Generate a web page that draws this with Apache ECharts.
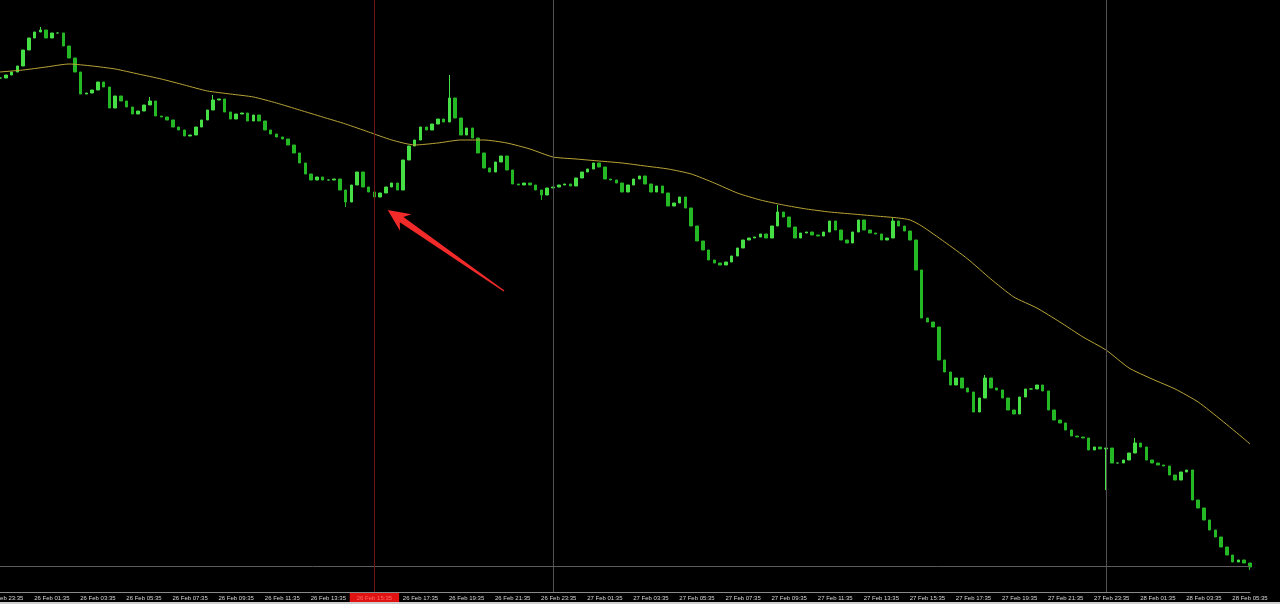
<!DOCTYPE html>
<html>
<head>
<meta charset="utf-8">
<script src="https://cdn.jsdelivr.net/npm/echarts@6/dist/echarts.min.js"></script>
<style>
html,body{margin:0;padding:0;background:#000;}
#c{width:1280px;height:604px;}
</style>
</head>
<body>
<div id="c"></div>
<script>
// 15-minute closes (index 0 = 25 Feb 23:20, last = 28 Feb 05:35)
const closes = [
522,525,528,534,550,562,568,570,562,567,567,554,542,528,506,507,510,518,513,492,
504,499,493,486,489,495,499,484,483,480,473,470,464,465,473,480,490,500,501,488,
481,486,487,479,485,479,470,466,463,461,455,447,437,426,420,423,420,420,421,410,
398,415,428,413,408,403,407,413,417,410,440,454,460,473,470,476,481,478,502,482,
465,472,462,447,432,428,438,444,430,416,415,417,415,410,405,412,413,415,416,414,
422,428,431,437,433,421,420,417,408,415,421,424,416,408,414,407,394,397,403,392,
374,359,350,340,337,335,338,344,352,360,362,363,366,362,374,388,383,373,362,367,
368,365,364,368,379,370,360,357,368,380,370,367,366,360,362,379,374,369,360,330,
282,278,273,240,228,215,222,212,208,188,202,222,212,210,202,190,186,203,211,211,
215,209,190,180,177,170,164,163,162,150,153,151,152,137,137,140,147,157,153,140,
137,135,134,125,120,128,130,100,92,80,70,63,53,45,38,40,37,33
];
// notable wicks beyond open/close: [index, level]
const wickHighs = [[7,573],[26,503],[37,505],[78,525],[135,395],[155,382],[171,225],[197,162]];
const wickLows  = [[60,393],[94,400],[192,110],[217,30]];
// moving average, read every few bars
const maIdx = [0,4,8,12,16,20,24,28,32,36,40,44,48,52,56,60,64,68,72,76,80,84,88,92,96,100,104,108,112,116,120,124,128,132,136,140,144,148,152,156,158,160,164,168,172,176,180,184,188,192,196,200,204,208,212,216,217];
const maVal = [528,530,533,536,534,531,526,521,515,509,506,503,497,490,483,476,468,460,455,457,460,460,457,451,443,441,439,437,434,431,426,417,407,400,395,391,388,386,384,382,380,374,358,341,321,303,292,278,263,250,232,221,211,198,180,161,156];
// time axis
const startTime = Date.UTC(2025, 1, 25, 23, 20);
const stepMin = 15;
const months = ['Jan','Feb','Mar','Apr','May','Jun','Jul','Aug','Sep','Oct','Nov','Dec'];
const separatorIdx = [96, 192];
const markedIdx = 65;
const bidLevel = 34;
const arrowTip = [67.3, 390];
const arrowTail = [87.5, 309];

const N = closes.length;
const pad = n => (n < 10 ? '0' : '') + n;
const cats = [];
for (let i = 0; i < N; i++) {
  const d = new Date(startTime + i * stepMin * 60000);
  cats.push(d.getUTCDate() + ' ' + months[d.getUTCMonth()] + ' ' + pad(d.getUTCHours()) + ':' + pad(d.getUTCMinutes()));
}
const hi = {}, lo = {};
wickHighs.forEach(p => hi[p[0]] = p[1]);
wickLows.forEach(p => lo[p[0]] = p[1]);
const ohlc = closes.map((c, i) => {
  const o = i === 0 ? c : closes[i - 1];
  let h = Math.max(o, c), l = Math.min(o, c);
  if (hi[i] !== undefined) h = Math.max(h, hi[i]);
  if (lo[i] !== undefined) l = Math.min(l, lo[i]);
  return [o, c, l, h];
});
const ma = new Array(N).fill(null);
maIdx.forEach((k, j) => ma[k] = maVal[j]);

const chart = echarts.init(document.getElementById('c'));
chart.setOption({
  backgroundColor: '#000',
  animation: false,
  grid: { left: 0, right: 30, top: 0, bottom: 12, containLabel: false, outerBoundsMode: 'none' },
  xAxis: {
    type: 'category', data: cats, boundaryGap: false,
    axisLine: { lineStyle: { color: '#8a8a8a', width: 1 } },
    axisTick: { show: false },
    splitLine: { show: false },
    axisLabel: {
      interval: (idx) => idx % 8 === 1 && idx !== markedIdx,
      color: '#d6d6d6', fontSize: 6, fontFamily: 'Liberation Sans', margin: 3,
      showMinLabel: true, showMaxLabel: true, hideOverlap: false
    }
  },
  yAxis: { type: 'value', min: 8, max: 600, show: false, splitLine: { show: false } },
  series: [
    {
      type: 'candlestick', data: ohlc, barWidth: 3, z: 3,
      itemStyle: { color: '#46e046', color0: '#25b825', borderColor: '#46e046', borderColor0: '#25b825', borderWidth: 1 },
      markLine: {
        silent: true, symbol: ['none', 'none'], animation: false,
        data: [
          { xAxis: cats[separatorIdx[0]], lineStyle: { color: '#505050', width: 1, type: 'solid' }, label: { show: false } },
          { xAxis: cats[separatorIdx[1]], lineStyle: { color: '#505050', width: 1, type: 'solid' }, label: { show: false } },
          { yAxis: bidLevel, lineStyle: { color: '#5c5c5c', width: 1, type: 'solid' }, label: { show: false } },
          { xAxis: cats[markedIdx], lineStyle: { color: '#6e1515', width: 1, type: 'solid' },
            label: { show: true, position: 'start', formatter: cats[markedIdx], color: '#ff6b6b',
              backgroundColor: '#e01212', fontSize: 6, fontFamily: 'Liberation Sans', padding: [2, 7, 1, 7], distance: 1 } }
        ]
      }
    },
    {
      type: 'line', data: ma, connectNulls: true, smooth: 0.2, symbol: 'none', z: 4,
      lineStyle: { color: '#b9a437', width: 1 }
    }
  ]
});

// red annotation arrow anchored to data coordinates
function toPx(p) {
  const a = chart.convertToPixel({ gridIndex: 0 }, [0, p[1]]);
  const b = chart.convertToPixel({ gridIndex: 0 }, [N - 1, p[1]]);
  return [a[0] + (b[0] - a[0]) * p[0] / (N - 1), a[1]];
}
const T = toPx(arrowTip), E = toPx(arrowTail);
const dx = T[0] - E[0], dy = T[1] - E[1], L = Math.hypot(dx, dy);
const u = [dx / L, dy / L], nrm = [u[1], -u[0]];
const at = (base, back, side) => [base[0] - u[0] * back + nrm[0] * side, base[1] - u[1] * back + nrm[1] * side];
const pts = [T, at(T, 22, 10), at(T, 17, 3.2), at(E, 0, 0.6), at(E, 0, -0.6), at(T, 17, -3.2), at(T, 22, -10)];
chart.setOption({
  graphic: [
    { type: 'polygon', shape: { points: pts }, style: { fill: '#f22a2a' }, z: 10, silent: true },
    { type: 'rect', left: 0, bottom: 0, shape: { width: 1280, height: 2 }, style: { fill: '#cfcfcf' }, z: 10, silent: true }
  ]
});
</script>
</body>
</html>
